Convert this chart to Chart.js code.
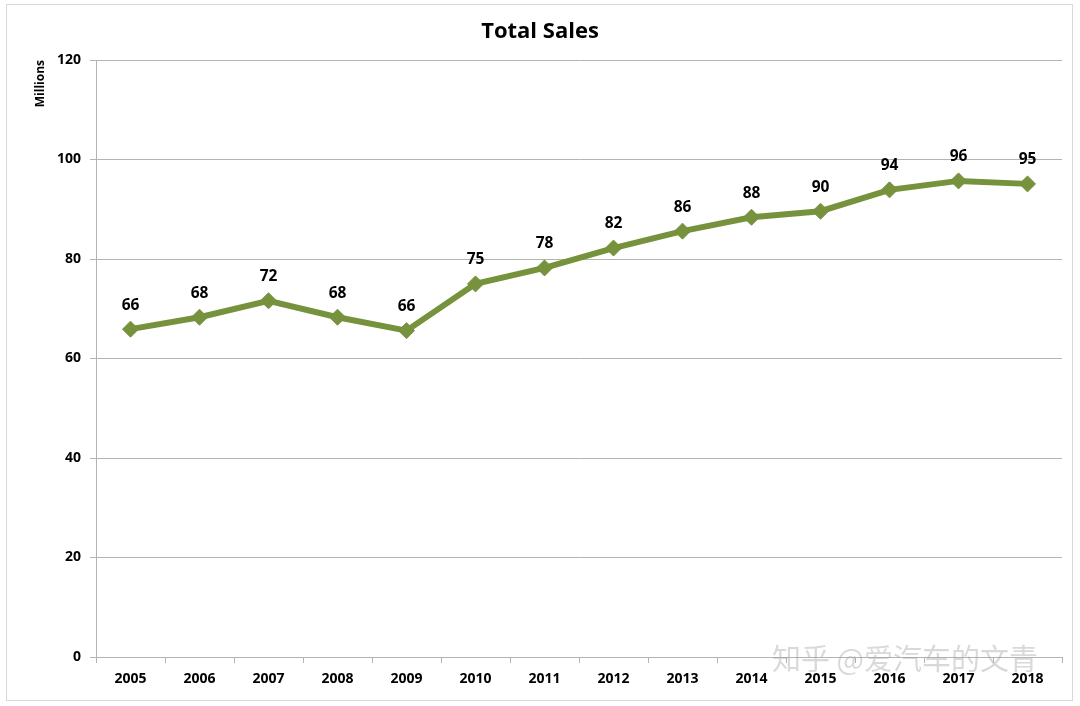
<!DOCTYPE html>
<html lang="en">
<head>
    <meta charset="UTF-8">
    <title>Total Sales</title>
    <script src="https://cdn.jsdelivr.net/npm/chart.js@4.4.4/dist/chart.umd.min.js"></script>
    <style>
        body { margin: 0; background: #fff; }
        #wrap { width: 1080px; height: 706px; }
    </style>
</head>
<body>
    <div id="wrap"><canvas id="sales-chart"></canvas></div>
    <script>
        // data
        const years = ['2005', '2006', '2007', '2008', '2009', '2010', '2011', '2012', '2013', '2014', '2015', '2016', '2017', '2018'];
        const sales = [65.9, 68.3, 71.6, 68.3, 65.6, 75.0, 78.2, 82.2, 85.6, 88.4, 89.6, 93.9, 95.7, 95.1];
        const yTicks = [0, 20, 40, 60, 80, 100, 120];

        const lineColor = '#76923c';
        const gridColor = '#b3b3b3';
        const font = "'Open Sans', 'Liberation Sans', sans-serif";

        // value labels above points, outer frame and watermark
        const extras = {
            id: 'extras',
            afterDatasetsDraw(chart) {
                const ctx = chart.ctx;
                const meta = chart.getDatasetMeta(0);
                ctx.save();
                ctx.font = 'bold 15.5px ' + font;
                ctx.fillStyle = '#000';
                ctx.textAlign = 'center';
                ctx.textBaseline = 'middle';
                meta.data.forEach((pt, i) => {
                    ctx.fillText(Math.round(sales[i]), pt.x, pt.y - 24);
                });
                ctx.font = '29px "Noto Sans CJK SC", sans-serif';
                ctx.fillStyle = 'rgba(160,160,160,0.4)';
                ctx.fillText('知乎 @爱汽车的文青', 905, 659);
                ctx.restore();
            },
            beforeDraw(chart) {
                const ctx = chart.ctx;
                ctx.save();
                ctx.fillStyle = '#fff';
                ctx.fillRect(0, 0, chart.width, chart.height);
                ctx.strokeStyle = '#d9d9d9';
                ctx.lineWidth = 1;
                ctx.strokeRect(6.5, 4.5, 1066, 696);
                ctx.restore();
            }
        };

        new Chart(document.getElementById('sales-chart'), {
            type: 'line',
            data: {
                labels: years,
                datasets: [{
                    data: sales,
                    borderColor: lineColor,
                    backgroundColor: lineColor,
                    borderWidth: 6,
                    pointStyle: 'rectRot',
                    pointRadius: 8,
                    pointBorderWidth: 1,
                    tension: 0
                }]
            },
            options: {
                responsive: true,
                maintainAspectRatio: false,
                animation: false,
                layout: { padding: { left: 18, right: 18, top: 0, bottom: 0 } },
                plugins: {
                    legend: { display: false },
                    tooltip: { enabled: false },
                    title: {
                        display: true,
                        text: 'Total Sales',
                        color: '#000',
                        font: { family: font, size: 22, weight: 'bold' },
                        padding: { top: 19, bottom: 14.6 }
                    }
                },
                scales: {
                    x: {
                        offset: true,
                        grid: { display: true, drawOnChartArea: false, drawTicks: true, tickLength: 6, offset: true, color: gridColor },
                        border: { color: gridColor },
                        ticks: { color: '#000', font: { family: font, size: 14, weight: 'bold' }, padding: 8, maxRotation: 0 },
                        afterFit(scale) { scale.height = 49; }
                    },
                    y: {
                        min: 0,
                        max: 120,
                        afterBuildTicks(scale) { scale.ticks = yTicks.map(v => ({ value: v })); },
                        grid: { color: gridColor, tickLength: 6 },
                        border: { color: gridColor },
                        ticks: { color: '#000', font: { family: font, size: 14, weight: 'bold' }, padding: 9 },
                        title: {
                            display: true,
                            text: 'Millions',
                            align: 'end',
                            color: '#000',
                            font: { family: font, size: 12, weight: 'bold' },
                            padding: { top: 15, bottom: 0 }
                        },
                        afterFit(scale) { scale.width = 78; }
                    }
                }
            },
            plugins: [extras]
        });
    </script>
</body>
</html>
